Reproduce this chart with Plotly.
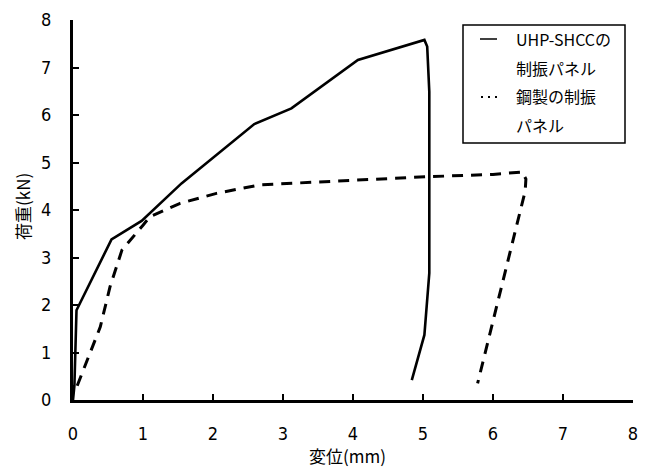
import plotly.graph_objects as go

# UHP-SHCC panel (solid)
shcc_x = [0.0, 0.02, 0.05, 0.55, 0.98, 1.55, 2.59, 3.12, 4.07, 5.02, 5.06, 5.09, 5.09, 5.02, 4.84]
shcc_y = [0.0, 0.3, 1.89, 3.38, 3.77, 4.56, 5.81, 6.14, 7.16, 7.58, 7.44, 6.49, 2.67, 1.37, 0.42]

# Steel panel (dashed)
steel_x = [0.06, 0.22, 0.39, 0.53, 0.70, 1.0, 1.10, 1.53, 2.05, 2.67, 3.62, 5.05, 6.0, 6.42, 6.47, 6.46, 5.78]
steel_y = [0.30, 0.91, 1.54, 2.39, 3.16, 3.68, 3.86, 4.14, 4.35, 4.53, 4.60, 4.70, 4.75, 4.80, 4.65, 4.40, 0.35]

x_ticks = [0, 1, 2, 3, 4, 5, 6, 7, 8]
y_ticks = [0, 1, 2, 3, 4, 5, 6, 7, 8]

legend_names = ["UHP-SHCCの", "制振パネル", "鋼製の制振", "パネル"]
x_title = "変位(mm)"
y_title = "荷重(kN)"

JP = "Noto Sans CJK JP"
NUM = "Liberation Sans Narrow, DejaVu Sans Condensed, Noto Sans CJK JP"

# page has an 8px body margin; figure sized to fit the 648x467 window
OFF = 8
W, H = 648 - OFF, 467 - OFF
L, R, T, B = 73 - OFF, 15, 20 - OFF, 67
PW, PH = W - L - R, H - T - B


def px(xp):  # page pixel -> paper x
    return (xp - 73) / PW


def py(yp):  # page pixel -> paper y
    return (400 - yp) / PH


fig = go.Figure()
fig.add_trace(go.Scatter(x=shcc_x, y=shcc_y, mode="lines",
                         line=dict(color="black", width=2.6), showlegend=False,
                         cliponaxis=False))
fig.add_trace(go.Scatter(x=steel_x, y=steel_y, mode="lines",
                         line=dict(color="black", width=3, dash="11px,8px"),
                         showlegend=False, cliponaxis=False))

fig.update_layout(
    width=W, height=H,
    margin=dict(l=L, r=R, t=T, b=B),
    paper_bgcolor="white", plot_bgcolor="white",
    showlegend=False,
)
common = dict(
    range=[0, 8], showgrid=False, zeroline=False,
    showline=True, linecolor="black", linewidth=3,
    ticks="inside", ticklen=6, tickwidth=2, tickcolor="black",
    tickfont=dict(family=NUM, size=18, color="black"),
    automargin=False,
)
fig.update_xaxes(tickvals=x_ticks, ticktext=[str(v) for v in x_ticks],
                 ticklabelstandoff=15, **common)
fig.update_yaxes(tickvals=y_ticks, ticktext=[str(v) for v in y_ticks],
                 ticklabelstandoff=15, **common)

fig.add_annotation(text=x_title, xref="paper", yref="paper", x=px(347), y=py(455),
                   xanchor="center", yanchor="middle", showarrow=False,
                   font=dict(family=JP, size=17, color="black"))
fig.add_annotation(text=y_title, xref="paper", yref="paper", x=px(22), y=py(207),
                   xanchor="center", yanchor="middle", showarrow=False, textangle=-90,
                   font=dict(family=JP, size=17, color="black"))

# legend box
fig.add_shape(type="rect", xref="paper", yref="paper",
              x0=px(463), x1=px(625), y0=py(143), y1=py(25),
              line=dict(color="black", width=1.5), fillcolor="white", layer="above")
fig.add_shape(type="line", xref="paper", yref="paper",
              x0=px(480), x1=px(497), y0=py(39), y1=py(39),
              line=dict(color="black", width=1.5), layer="above")
fig.add_shape(type="line", xref="paper", yref="paper",
              x0=px(481), x1=px(498), y0=py(97), y1=py(97),
              line=dict(color="black", width=2, dash="2px,5px"), layer="above")
for i, name in enumerate(legend_names):
    fig.add_annotation(text=name, xref="paper", yref="paper",
                       x=px(514), y=py(39 + 28.5 * i),
                       xanchor="left", yanchor="middle", showarrow=False,
                       font=dict(family=JP, size=16, color="black"))

fig.write_html("out.html")
